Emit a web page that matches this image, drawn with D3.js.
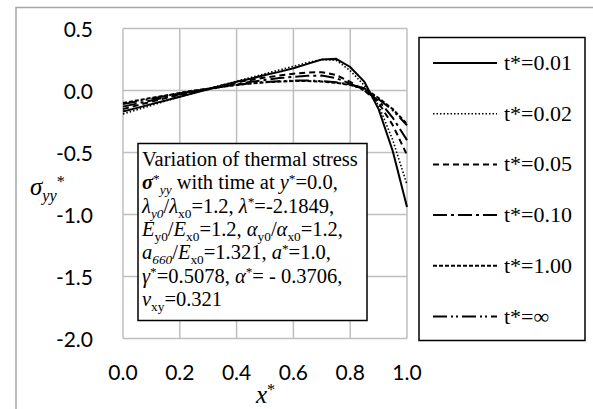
<!DOCTYPE html>
<html>
<head>
<meta charset="utf-8">
<script src="https://cdn.jsdelivr.net/npm/d3@7"></script>
<style>
  body { margin: 0; background: #fff; }
  .tick-label { font-family: Lato, "Open Sans", sans-serif; font-size: 21px; fill: #000; }
  .serif { font-family: "Liberation Serif", "Times New Roman", serif; fill: #000; }
</style>
</head>
<body>
<div id="graph"></div>
<script>
// data
var xs = [0, 0.05, 0.1, 0.15, 0.2, 0.25, 0.3, 0.35, 0.4, 0.45, 0.5, 0.55, 0.6, 0.65, 0.7, 0.75, 0.8, 0.85, 0.9, 0.95, 1.0];
var t001 = [-0.17, -0.14, -0.11, -0.08, -0.05, -0.02, 0.01, 0.04, 0.07, 0.095, 0.125, 0.15, 0.18, 0.215, 0.25, 0.255, 0.19, 0.07, -0.15, -0.49, -0.94];
var t002 = [-0.19, -0.155, -0.12, -0.085, -0.05, -0.02, 0.015, 0.045, 0.075, 0.105, 0.135, 0.165, 0.195, 0.225, 0.25, 0.245, 0.16, 0.04, -0.12, -0.40, -0.76];
var t005 = [-0.15, -0.12, -0.09, -0.06, -0.035, -0.01, 0.015, 0.04, 0.065, 0.085, 0.105, 0.12, 0.135, 0.145, 0.148, 0.125, 0.07, 0.0, -0.10, -0.28, -0.52];
var t010 = [-0.13, -0.105, -0.08, -0.055, -0.03, -0.01, 0.01, 0.03, 0.05, 0.07, 0.085, 0.10, 0.11, 0.118, 0.12, 0.10, 0.055, 0.0, -0.08, -0.22, -0.40];
var t100 = [-0.10, -0.08, -0.06, -0.04, -0.02, 0.0, 0.015, 0.03, 0.045, 0.057, 0.066, 0.072, 0.076, 0.076, 0.072, 0.062, 0.045, 0.015, -0.06, -0.15, -0.27];
var tinf = [-0.11, -0.088, -0.066, -0.044, -0.023, -0.003, 0.014, 0.03, 0.045, 0.058, 0.068, 0.075, 0.08, 0.08, 0.076, 0.066, 0.048, 0.018, -0.07, -0.16, -0.28];

var seriesNames = ["t*=0.01", "t*=0.02", "t*=0.05", "t*=0.10", "t*=1.00", "t*=\u221e"];
var seriesValues = [t001, t002, t005, t010, t100, tinf];
var xTicks = [0, 0.2, 0.4, 0.6, 0.8, 1.0];
var yTicks = [0.5, 0, -0.5, -1.0, -1.5, -2.0];

// line styles per series
var dashes = ["none", "1.5,2", "6,4", "14,4,3,4", "4,2", "14,4,2,3,2,4"];
var widths = [2, 1.6, 2, 2, 2, 2];

var svg = d3.select('#graph').append("svg")
  .attr('width', 593)
  .attr('height', 409);

// outer chart frame (runs off the right/bottom of the window)
svg.append("rect")
  .attr("x", 16).attr("y", 7.5)
  .attr("width", 620).attr("height", 450)
  .attr("fill", "none")
  .attr("stroke", "#a6a6a6")
  .attr("stroke-width", 1.5);

var x = d3.scaleLinear().domain([0, 1]).range([123, 407]);
var y = d3.scaleLinear().domain([-2, 0.5]).range([338.5, 28.5]);

var fmt = function(d) { return d3.format(".1f")(d).replace("\u2212", "-"); };

// gridlines
svg.append("g").selectAll("line.vg")
  .data(xTicks)
  .enter().append("line")
  .attr("x1", function(d) { return x(d); })
  .attr("x2", function(d) { return x(d); })
  .attr("y1", y(0.5)).attr("y2", y(-2))
  .attr("stroke", "#bfbfbf").attr("stroke-width", 1.5);

svg.append("g").selectAll("line.hg")
  .data(yTicks)
  .enter().append("line")
  .attr("y1", function(d) { return y(d); })
  .attr("y2", function(d) { return y(d); })
  .attr("x1", x(0)).attr("x2", x(1))
  .attr("stroke", "#bfbfbf").attr("stroke-width", 1.5);

// tick labels
svg.append("g").selectAll("text")
  .data(yTicks)
  .enter().append("text")
  .attr("class", "tick-label")
  .attr("x", 93)
  .attr("y", function(d) { return y(d) + 8; })
  .attr("text-anchor", "end")
  .text(fmt);

svg.append("g").selectAll("text")
  .data(xTicks)
  .enter().append("text")
  .attr("class", "tick-label")
  .attr("x", function(d) { return x(d); })
  .attr("y", 380)
  .attr("text-anchor", "middle")
  .text(fmt);

// the curves
var line = d3.line()
  .x(function(d) { return x(d[0]); })
  .y(function(d) { return y(d[1]); });

seriesValues.forEach(function(vals, i) {
  svg.append("path")
    .datum(xs.map(function(v, j) { return [v, vals[j]]; }))
    .attr("fill", "none")
    .attr("stroke", "#000")
    .attr("stroke-width", widths[i])
    .attr("stroke-dasharray", dashes[i])
    .attr("d", line);
});

// rich text helper: segments {t, i, b, s:'sub'|'sup'}
function richText(sel, px, py, size, segs) {
  var txt = sel.append("text").attr("class", "serif")
    .attr("x", px).attr("y", py)
    .style("font-size", size + "px");
  var shift = 0;
  segs.forEach(function(s) {
    var target = s.s == "sub" ? size * 0.25 : (s.s == "sup" ? -size * 0.32 : 0);
    txt.append("tspan")
      .attr("dy", target - shift)
      .style("font-style", s.i ? "italic" : "normal")
      .style("font-weight", s.b ? "bold" : "normal")
      .style("font-size", s.s ? (size * 0.65) + "px" : size + "px")
      .text(s.t);
    shift = target;
  });
  return txt;
}

// annotation box
svg.append("rect")
  .attr("x", 138).attr("y", 143.5)
  .attr("width", 229).attr("height", 177)
  .attr("fill", "#fff")
  .attr("stroke", "#000").attr("stroke-width", 1.5);

var noteLines = [
  [{t: "Variation of thermal stress"}],
  [{t: "\u03c3", i: 1, b: 1}, {t: "*", s: "sup"}, {t: "yy", i: 1, s: "sub"}, {t: " with time at "}, {t: "y", i: 1}, {t: "*", s: "sup"}, {t: "=0.0,"}],
  [{t: "\u03bb", i: 1}, {t: "y0", i: 1, s: "sub"}, {t: "/"}, {t: "\u03bb", i: 1}, {t: "x0", s: "sub"}, {t: "=1.2, "}, {t: "\u03bb", i: 1}, {t: "*", s: "sup"}, {t: "=-2.1849,"}],
  [{t: "E", i: 1}, {t: "y0", s: "sub"}, {t: "/"}, {t: "E", i: 1}, {t: "x0", s: "sub"}, {t: "=1.2, "}, {t: "\u03b1", i: 1}, {t: "y0", s: "sub"}, {t: "/"}, {t: "\u03b1", i: 1}, {t: "x0", s: "sub"}, {t: "=1.2,"}],
  [{t: "a", i: 1}, {t: "660", i: 1, s: "sub"}, {t: "/"}, {t: "E", i: 1}, {t: "x0", s: "sub"}, {t: "=1.321, "}, {t: "a", i: 1}, {t: "*", s: "sup"}, {t: "=1.0,"}],
  [{t: "\u03b3", i: 1}, {t: "*", s: "sup"}, {t: "=0.5078, "}, {t: "\u03b1", i: 1}, {t: "*", s: "sup"}, {t: "= - 0.3706,"}],
  [{t: "\u03bd", i: 1}, {t: "xy", s: "sub"}, {t: "=0.321"}]
];
noteLines.forEach(function(segs, i) {
  richText(svg, 142, 166 + i * 23.3, 20.5, segs);
});

// axis titles
richText(svg, 30, 195, 25, [{t: "\u03c3", i: 1}, {t: "yy", i: 1, s: "sub"}, {t: "*", s: "sup"}]);
richText(svg, 256, 403, 25, [{t: "x", i: 1}, {t: "*", s: "sup"}]);

// legend
svg.append("rect")
  .attr("x", 419).attr("y", 37.5)
  .attr("width", 166).attr("height", 303)
  .attr("fill", "#fff")
  .attr("stroke", "#000").attr("stroke-width", 1.5);

var legend = svg.append("g").selectAll("g")
  .data(seriesNames)
  .enter().append("g")
  .attr("transform", function(d, i) { return "translate(0," + (63 + i * 50.7) + ")"; });

legend.append("line")
  .attr("x1", 433).attr("x2", 497)
  .attr("stroke", "#000")
  .attr("stroke-width", function(d, i) { return widths[i]; })
  .attr("stroke-dasharray", function(d, i) { return dashes[i]; });

legend.append("text")
  .attr("class", "serif")
  .attr("x", 504).attr("y", 7)
  .style("font-size", "22px")
  .text(function(d) { return d; });
</script>
</body>
</html>
